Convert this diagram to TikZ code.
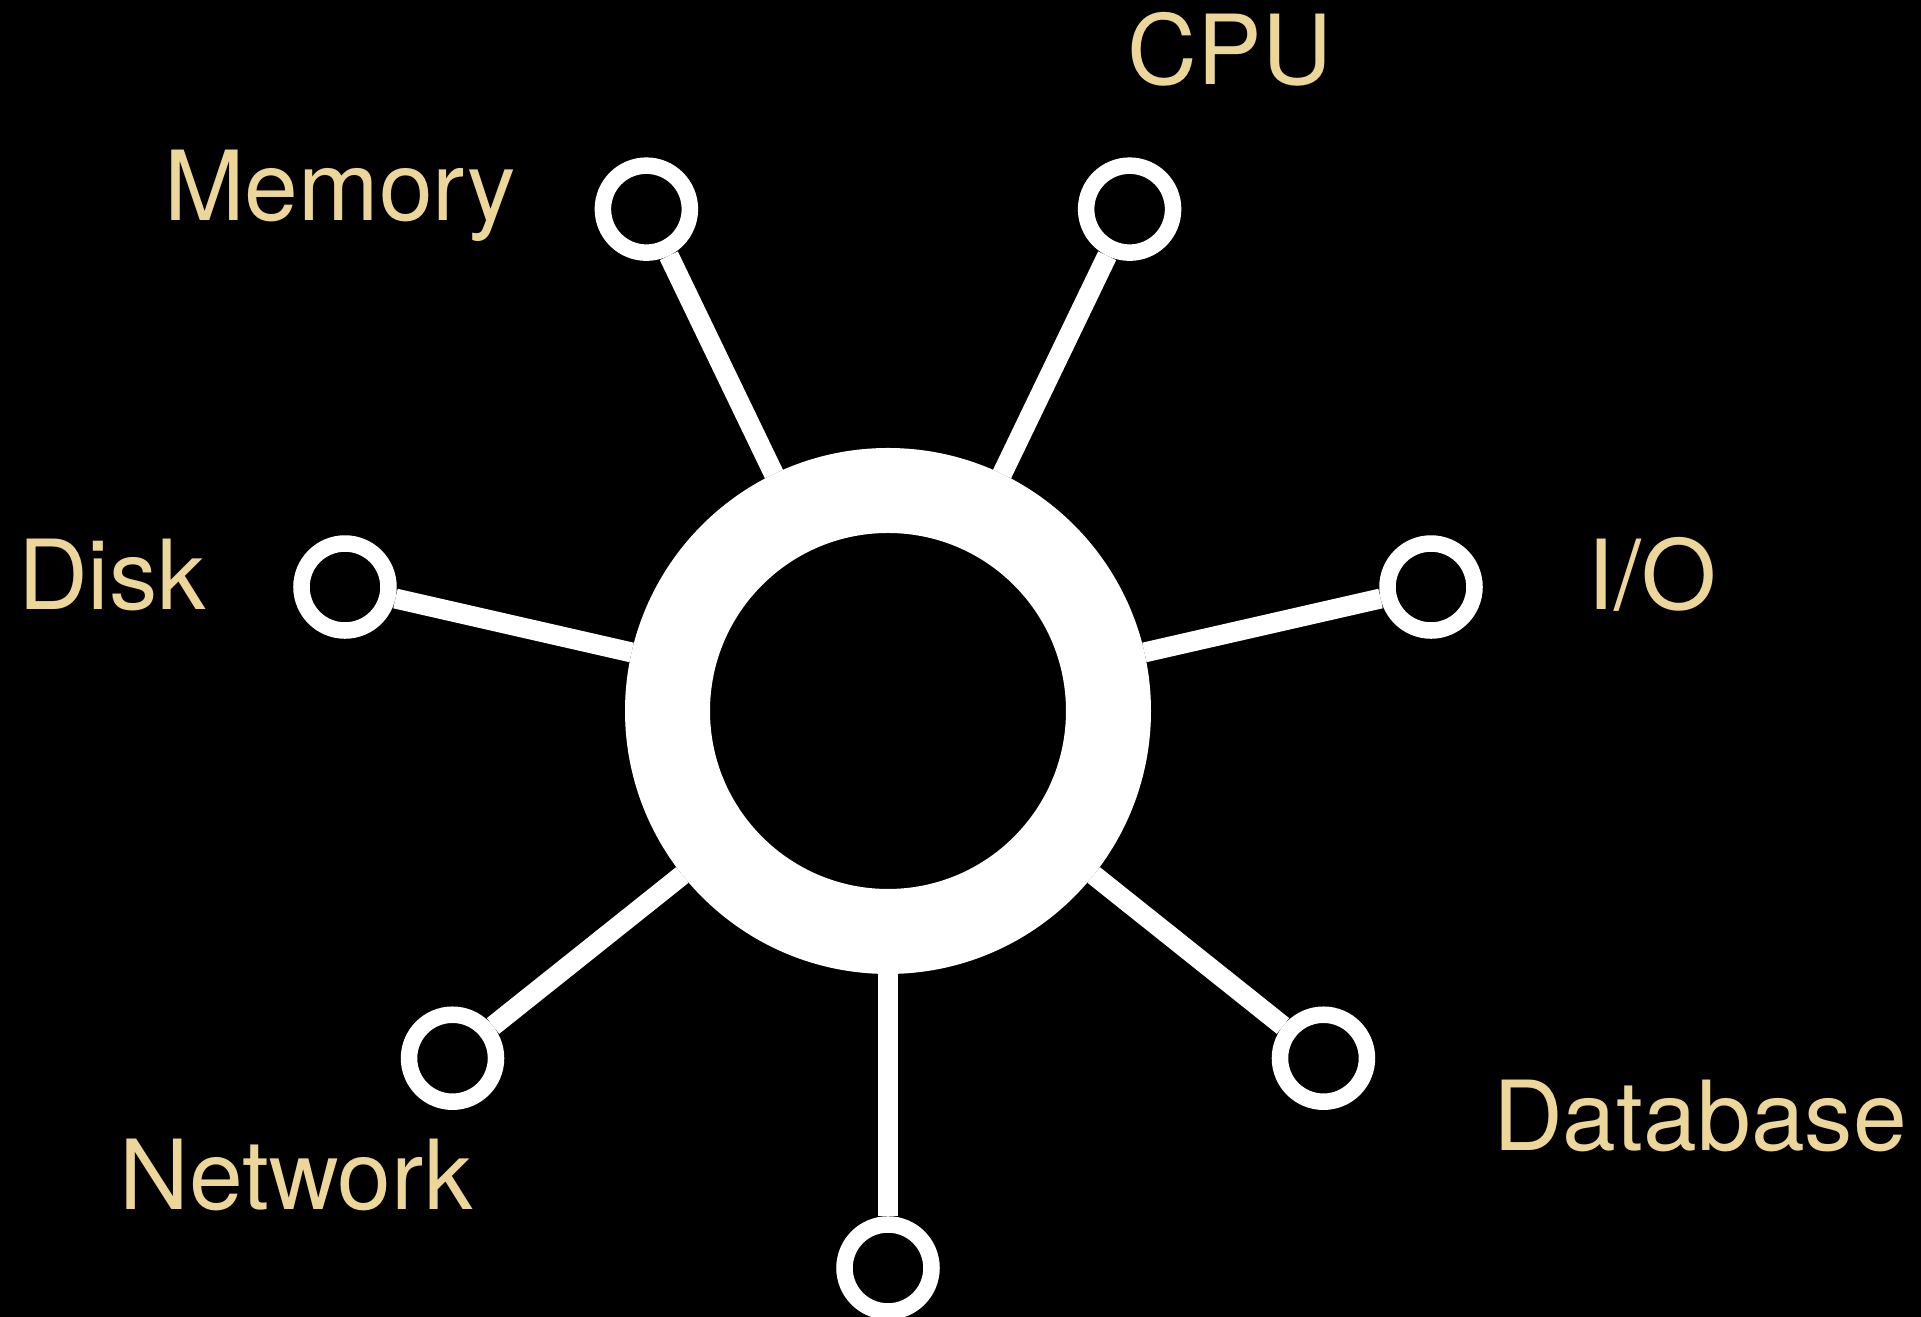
\documentclass[tikz,border=0pt]{standalone}
\usepackage{fontspec}
\setmainfont{TeX Gyre Heros}
\usepackage{xcolor}
\usepackage{tikz}
\usetikzlibrary{calc, positioning}
\definecolor{labeltan}{RGB}{237,214,153}

\begin{document}
\begin{tikzpicture}[
    hubring/.style={circle, draw=white, line width=0.85cm, minimum size=4.41cm, inner sep=0pt},
    port/.style={circle, draw=white, line width=0.165cm, minimum size=0.87cm, inner sep=0pt},
    spoke/.style={draw=white, line width=0.2cm},
    tag/.style={text=labeltan, font=\fontsize{27.5}{33}\selectfont, anchor=base, inner sep=0pt}]
    % Background
    \fill[black] (0,0) rectangle (19.21,13.17);
    \useasboundingbox (0,0) rectangle (19.21,13.17);

    % Hub
    \node[hubring] (hub) at (8.88,6.06) {};

    % Ports
    \node[port] (io) at ($(hub)+(12.86:5.57)$) {};
    \node[port] (cpu) at ($(hub)+(64.29:5.57)$) {};
    \node[port] (mem) at ($(hub)+(115.71:5.57)$) {};
    \node[port] (disk) at ($(hub)+(167.14:5.57)$) {};
    \node[port] (net) at ($(hub)+(218.57:5.57)$) {};
    \node[port] (low) at ($(hub)+(270:5.57)$) {};
    \node[port] (db) at ($(hub)+(321.43:5.57)$) {};

    % Spokes
    \draw[spoke] (hub) -- (io);
    \draw[spoke] (hub) -- (cpu);
    \draw[spoke] (hub) -- (mem);
    \draw[spoke] (hub) -- (disk);
    \draw[spoke] (hub) -- (net);
    \draw[spoke] (hub) -- (low);
    \draw[spoke] (hub) -- (db);

    % Labels
    \node[tag] (cpulabel) at (12.30,12.32) {CPU};
    \node[tag] (memlabel) at (3.40,10.965) {Memory};
    \node[tag] (disklabel) at (1.12,7.07) {Disk};
    \node[tag] (iolabel) at (16.52,7.07) {I/O};
    \node[tag] (netlabel) at (2.96,1.07) {Network};
    \node[tag] (dblabel) at (17.00,1.66) {Database};
\end{tikzpicture}
\end{document}
